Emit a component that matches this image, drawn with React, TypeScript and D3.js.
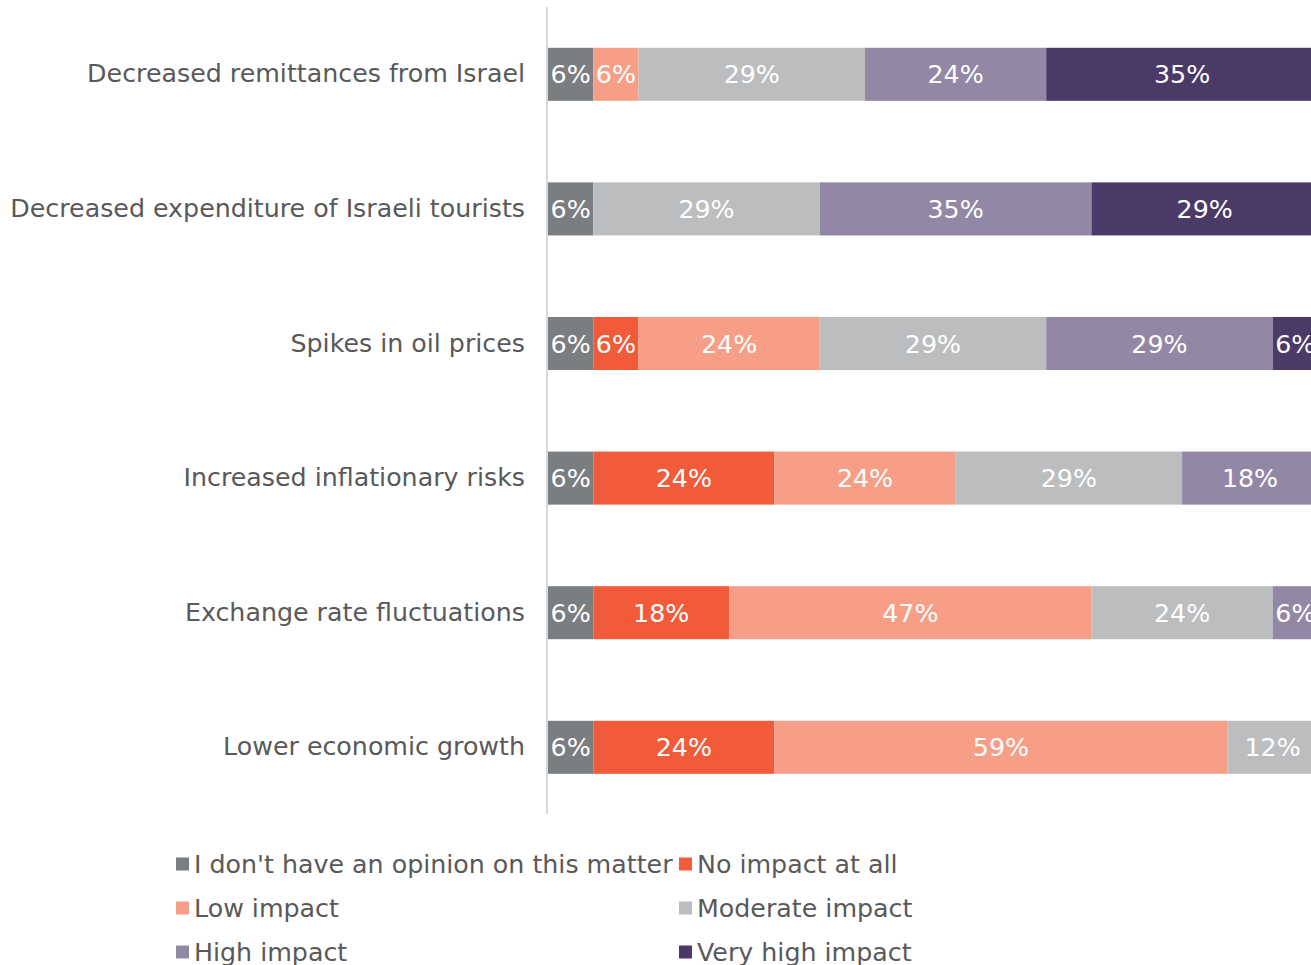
import React from "react";
import * as d3 from "d3";

const categories = [
  "Decreased remittances from Israel",
  "Decreased expenditure of Israeli tourists",
  "Spikes in oil prices",
  "Increased inflationary risks",
  "Exchange rate fluctuations",
  "Lower economic growth",
];

const seriesNames = [
  "I don't have an opinion on this matter",
  "No impact at all",
  "Low impact",
  "Moderate impact",
  "High impact",
  "Very high impact",
];

const colors = ["#7b7e81", "#f15b3a", "#f79e87", "#bcbdbf", "#9387a6", "#4b3a68"];

// values in % per series, aligned with categories
const noOpinion = [5.88, 5.88, 5.88, 5.88, 5.88, 5.88];
const noImpact = [0, 0, 5.88, 23.53, 17.65, 23.53];
const lowImpact = [5.88, 0, 23.53, 23.53, 47.06, 58.82];
const moderateImpact = [29.41, 29.41, 29.41, 29.41, 23.53, 11.76];
const highImpact = [23.53, 35.29, 29.41, 17.65, 5.88, 0];
const veryHighImpact = [35.29, 29.41, 5.88, 0, 0, 0];

const seriesValues = [noOpinion, noImpact, lowImpact, moderateImpact, highImpact, veryHighImpact];

const W = 1311;
const H = 965;
const FONT = "'DejaVu Sans', Verdana, sans-serif";
const FS = 25.3;

export default function App() {
  const x = d3.scaleLinear().domain([0, 100]).range([548, 1318]);
  const y = d3
    .scaleBand<string>()
    .domain(categories)
    .range([7, 814.6])
    .paddingInner(0.606)
    .paddingOuter(0.303);

  const table = categories.map((c, i) => {
    const row: any = { category: c };
    seriesNames.forEach((s, j) => (row[s] = seriesValues[j][i]));
    return row;
  });
  const stacked = d3.stack<any>().keys(seriesNames)(table);

  const legendCols = [176, 679];
  const legendRows = [864, 908, 952];

  return (
    <svg
      width={W}
      height={H}
      style={{ position: "absolute", left: 0, top: 0, background: "#fff" }}
      fontFamily={FONT}
    >
      {stacked.map((layer, j) => (
        <g key={j}>
          {layer.map((d, i) => {
            const v = d[1] - d[0];
            if (v <= 0) return null;
            const cat = categories[i];
            const x0 = x(d[0]);
            const x1 = x(d[1]);
            return (
              <g key={i}>
                <rect
                  x={x0}
                  y={y(cat)!}
                  width={x1 - x0}
                  height={y.bandwidth()}
                  fill={colors[j]}
                />
                <text
                  x={(x0 + x1) / 2}
                  y={y(cat)! + y.bandwidth() / 2}
                  dy="0.36em"
                  textAnchor="middle"
                  fill="#fff"
                  fontSize={FS}
                >
                  {`${Math.round(v)}%`}
                </text>
              </g>
            );
          })}
        </g>
      ))}
      <line x1={547} x2={547} y1={7} y2={814} stroke="#d9d9d9" strokeWidth={2} />
      {categories.map((c) => (
        <text
          key={c}
          x={525}
          y={y(c)! + y.bandwidth() / 2 - 1}
          dy="0.36em"
          textAnchor="end"
          fill="#595959"
          fontSize={FS}
        >
          {c}
        </text>
      ))}
      {seriesNames.map((s, j) => {
        const lx = legendCols[j % 2];
        const ly = legendRows[Math.floor(j / 2)];
        return (
          <g key={s}>
            <rect x={lx} y={ly - 6.5} width={13} height={13} fill={colors[j]} />
            <text x={lx + 18} y={ly} dy="0.36em" fill="#595959" fontSize={FS}>
              {s}
            </text>
          </g>
        );
      })}
    </svg>
  );
}
